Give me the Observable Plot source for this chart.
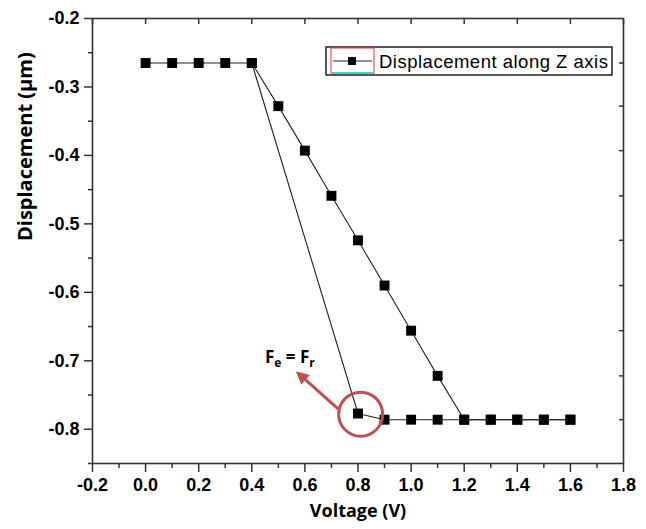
<!DOCTYPE html>
<html>
<head>
<meta charset="utf-8">
<script src="https://cdn.jsdelivr.net/npm/d3@7"></script>
<script src="https://cdn.jsdelivr.net/npm/@observablehq/plot@0.6"></script>
<style>
  html, body { margin: 0; padding: 0; background: #fff; }
</style>
</head>
<body>
<div id="chart"></div>
<script>
// Loading branch (increasing voltage)
const voltageUp = [0.0, 0.1, 0.2, 0.3, 0.4, 0.5, 0.6, 0.7, 0.8, 0.9, 1.0, 1.1, 1.2, 1.3, 1.4, 1.5, 1.6];
const dispUp    = [-0.265, -0.265, -0.265, -0.265, -0.265, -0.328, -0.393, -0.459, -0.524, -0.590, -0.656, -0.722, -0.786, -0.786, -0.786, -0.786, -0.786];
// Release branch (decreasing voltage)
const voltageDown = [1.6, 1.5, 1.4, 1.3, 1.2, 1.1, 1.0, 0.9, 0.8, 0.4];
const dispDown    = [-0.786, -0.786, -0.786, -0.786, -0.786, -0.786, -0.786, -0.786, -0.777, -0.265];

const xMajor = [-0.2, 0.0, 0.2, 0.4, 0.6, 0.8, 1.0, 1.2, 1.4, 1.6, 1.8];
const xMinor = [-0.1, 0.1, 0.3, 0.5, 0.7, 0.9, 1.1, 1.3, 1.5, 1.7];
const yMajor = [-0.2, -0.3, -0.4, -0.5, -0.6, -0.7, -0.8];
const yMinor = [-0.25, -0.35, -0.45, -0.55, -0.65, -0.75, -0.85];
const rightTicks = [-0.265, -0.328, -0.393, -0.459, -0.524, -0.590, -0.656, -0.722, -0.786];

const legendLabel = "Displacement along Z axis";
const xTitle = "Voltage (V)";
const yTitle = "Displacement (\u00b5m)";

// Annotation (pull-in point)
const pullIn = {x: 0.81, y: -0.778};
const arrowFrom = {x: 0.727, y: -0.771};
const arrowTo = {x: 0.568, y: -0.716};
const noteAt = {x: 0.545, y: -0.704};

const up = voltageUp.map((v, i) => ({v, d: dispUp[i]}));
const down = voltageDown.map((v, i) => ({v, d: dispDown[i]}));

const red = "#c0504d";
const ink = "#222";
const tickFont = "Liberation Sans, Arial, sans-serif";
const titleFont = "Open Sans, sans-serif";

function legendMark(index, scales, values, dim) {
  const g = d3.create("svg:g").attr("text-anchor", "start");
  const x0 = 326, y0 = 47, w = 286, h = 28;
  g.append("rect").attr("x", x0).attr("y", y0).attr("width", w).attr("height", h)
    .attr("fill", "#fff").attr("stroke", "#111").attr("stroke-width", 1.4);
  g.append("rect").attr("x", x0 + 5).attr("y", y0 + 1).attr("width", 43).attr("height", h - 3)
    .attr("fill", "none").attr("stroke", "#e33").attr("stroke-width", 1);
  g.append("line").attr("x1", x0 + 5).attr("x2", x0 + 48).attr("y1", y0 + h - 2).attr("y2", y0 + h - 2)
    .attr("stroke", "#2dd").attr("stroke-width", 1.5);
  g.append("line").attr("x1", x0 + 7).attr("x2", x0 + 46).attr("y1", y0 + 14).attr("y2", y0 + 14)
    .attr("stroke", ink).attr("stroke-width", 1.2);
  g.append("rect").attr("x", x0 + 22).attr("y", y0 + 10).attr("width", 8).attr("height", 8).attr("fill", "#000");
  g.append("text").attr("x", x0 + 53).attr("y", y0 + 21)
    .attr("text-anchor", "start")
    .attr("letter-spacing", 0.5)
    .attr("font-family", tickFont).attr("font-size", 18.5).attr("fill", "#000")
    .text(legendLabel);
  return g.node();
}

function noteMark(index, scales) {
  const t = d3.create("svg:text")
    .attr("x", scales.x(noteAt.x)).attr("y", scales.y(noteAt.y))
    .attr("text-anchor", "middle")
    .attr("font-family", titleFont).attr("font-weight", "bold").attr("font-size", 17).attr("fill", "#000");
  t.append("tspan").text("F");
  t.append("tspan").attr("font-size", 12).attr("dy", 4).text("e");
  t.append("tspan").attr("dy", -4).text(" = F");
  t.append("tspan").attr("font-size", 12).attr("dy", 4).text("r");
  return t.node();
}

function arrowMark(index, scales) {
  const x1 = scales.x(arrowFrom.x), y1 = scales.y(arrowFrom.y);
  const x2 = scales.x(arrowTo.x), y2 = scales.y(arrowTo.y);
  const a = Math.atan2(y2 - y1, x2 - x1);
  const L = 13, W = 6.5;
  const bx = x2 - L * Math.cos(a), by = y2 - L * Math.sin(a);
  const g = d3.create("svg:g");
  g.append("line").attr("x1", x1).attr("y1", y1).attr("x2", bx).attr("y2", by)
    .attr("stroke", red).attr("stroke-width", 3);
  const px = -Math.sin(a), py = Math.cos(a);
  g.append("path")
    .attr("d", `M${x2},${y2}L${bx + W * px},${by + W * py}L${bx - W * px},${by - W * py}Z`)
    .attr("fill", red);
  return g.node();
}

const fmt = d => d.toFixed(1);

const chart = Plot.plot({
  width: 646,
  height: 529,
  marginLeft: 92,
  marginRight: 23,
  marginTop: 18,
  marginBottom: 66,
  style: {background: "#fff", overflow: "visible"},
  x: {domain: [-0.2, 1.8]},
  y: {domain: [-0.85, -0.2]},
  marks: [
    // minor ticks
    Plot.axisX({ticks: xMinor, tickSize: 5, tickFormat: () => "", label: null, stroke: "#333", strokeWidth: 1.5}),
    Plot.axisY({ticks: yMinor, tickSize: 4, tickFormat: () => "", label: null, stroke: "#333", strokeWidth: 1.5}),
    // major ticks + labels
    Plot.axisX({ticks: xMajor, tickSize: 9, tickPadding: 6, tickFormat: fmt, label: null,
      fontSize: 18, fontWeight: "bold", fontFamily: tickFont, fill: "#000", stroke: "#333", strokeWidth: 1.5}),
    Plot.axisY({ticks: yMajor, tickSize: 8, tickPadding: 5, tickFormat: fmt, label: null,
      fontSize: 18, fontWeight: "bold", fontFamily: tickFont, fill: "#000", stroke: "#333", strokeWidth: 1.5}),
    // inward ticks on top and right
    Plot.axisX({anchor: "top", ticks: xMajor, tickSize: -5, tickFormat: () => "", label: null, stroke: "#333", strokeWidth: 1.5}),
    Plot.axisY({anchor: "right", ticks: rightTicks, tickSize: -5, tickFormat: () => "", label: null, stroke: "#333", strokeWidth: 1.5}),
    Plot.frame({stroke: "#333", strokeWidth: 1.6}),
    // axis titles
    Plot.text([xTitle], {frameAnchor: "bottom", dy: 53, text: d => d, fontSize: 18, fontWeight: "bold", fontFamily: titleFont, fill: "#000"}),
    Plot.text([yTitle], {frameAnchor: "left", dx: -67, rotate: -90, text: d => d, fontSize: 20, fontWeight: "bold", fontFamily: titleFont, fill: "#000"}),
    // data
    Plot.line(up, {x: "v", y: "d", stroke: ink, strokeWidth: 1.1}),
    Plot.line(down, {x: "v", y: "d", stroke: ink, strokeWidth: 1.1}),
    Plot.dot(up, {x: "v", y: "d", symbol: "square", r: 5.6, fill: "#000", stroke: "none"}),
    Plot.dot(down, {x: "v", y: "d", symbol: "square", r: 5.6, fill: "#000", stroke: "none"}),
    // annotation
    Plot.dot([pullIn], {x: "x", y: "y", r: 22, stroke: red, strokeWidth: 3, fill: "none"}),
    arrowMark,
    noteMark,
    legendMark
  ]
});

document.getElementById("chart").appendChild(chart);
</script>
</body>
</html>
